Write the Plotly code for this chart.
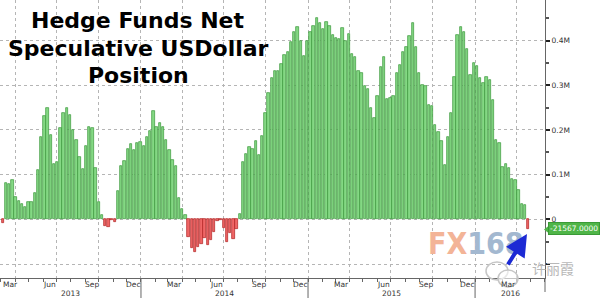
import datetime as dt
import plotly.graph_objects as go

# ---------------- data ----------------
first_week = "2013-03-05"   # first weekly observation (CFTC Tuesdays)
# net speculative USD position, thousands of contracts
net_position_k = [
    -8, 82, 79, 87, 49, 40, 34, 28, 39, 38,
    58, 110, 185, 230, 249, 189, 124, 129, 204, 237,
    248, 233, 200, 178, 139, 112, 165, 206, 205, 114,
    39, 10, -16, -17, -2, -7, 64, 119, 131, 157,
    169, 155, 170, 172, 164, 184, 198, 243, 206, 215,
    207, 178, 155, 133, 119, 47, 22, 10, -39, -65,
    -74, -63, -56, -41, -58, -47, -28, -3, -2, -20,
    -50, -31, -45, -22, 12, 129, 146, 161, 157, 175,
    144, 187, 237, 282, 316, 332, 331, 348, 368, 375,
    396, 418, 430, 398, 365, 400, 420, 433, 451, 440,
    425, 442, 433, 412, 405, 403, 428, 400, 415, 369,
    363, 331, 327, 299, 291, 249, 226, 276, 340, 364,
    269, 271, 276, 327, 345, 375, 385, 409, 439, 385,
    328, 301, 299, 256, 254, 211, 196, 175, 122, 185,
    237, 319, 413, 430, 418, 381, 323, 349, 342, 317,
    304, 319, 312, 267, 178, 170, 116, 124, 114, 90,
    88, 66, 34, 32, -21.567,
]
month_labels = ["Mar", "Jun", "Sep", "Dec"]
month_numbers = [3, 6, 9, 12]
years = [2013, 2014, 2015, 2016]
y_tick_values = [0, 100000, 200000, 300000, 400000]
y_tick_text = ["0", "0.1M", "0.2M", "0.3M", "0.4M"]
last_label = "-21567.0000"

# ---------------- build ----------------
start = dt.date.fromisoformat(first_week)
dates = [start + dt.timedelta(weeks=i) for i in range(len(net_position_k))]
values = [v * 1000 for v in net_position_k]

GREEN_FILL, GREEN_LINE = "#84d884", "#3a963a"
RED_FILL, RED_LINE = "#f06666", "#b02020"
fills = [GREEN_FILL if v >= 0 else RED_FILL for v in values]
lines = [GREEN_LINE if v >= 0 else RED_LINE for v in values]

X0 = dt.datetime(2013, 2, 27)
X1 = dt.datetime(2016, 6, 1, 19)
PLOT_W, PLOT_H = 545, 278

def px(x):
    return x / PLOT_W

def py(y):
    return (PLOT_H - y) / PLOT_H

fig = go.Figure()
fig.add_trace(go.Bar(
    x=dates, y=values,
    width=5.2 * 86400000,
    marker=dict(color=fills, line=dict(color=lines, width=0.7)),
    hoverinfo="skip",
))

AX_FONT = dict(family="DejaVu Sans", size=7.5, color="#333333")

quarter_starts = []
for yr in range(2013, 2017):
    for m in (1, 4, 7, 10):
        d = dt.datetime(yr, m, 1)
        if X0 < d < X1:
            quarter_starts.append(d)

fig.update_layout(
    width=600, height=298, autosize=False,
    margin=dict(l=0, r=55, t=0, b=20, pad=0),
    paper_bgcolor="white", plot_bgcolor="white",
    showlegend=False, bargap=0,
    xaxis=dict(
        type="date", range=[X0, X1], automargin=False,
        showline=True, linecolor="#666666", linewidth=1,
        tickvals=quarter_starts, showticklabels=False,
        ticks="outside", ticklen=3, tickcolor="#666666",
        showgrid=True, gridcolor="#b5b5b5", griddash="dot", gridwidth=1,
        minor=dict(dtick="M1", tick0="2013-01-01", ticks="outside",
                   ticklen=3, tickcolor="#666666", showgrid=False),
        zeroline=False, fixedrange=True,
    ),
    yaxis=dict(
        side="right", range=[-131300, 490600], automargin=False,
        showline=True, linecolor="#666666", linewidth=1,
        tickvals=[-100000] + y_tick_values, ticktext=[""] + y_tick_text,
        ticks="outside", ticklen=4, tickwidth=2, tickcolor="#222222",
        tickfont=AX_FONT,
        showgrid=True, gridcolor="#b5b5b5", griddash="dot", gridwidth=1,
        minor=dict(dtick=50000, tick0=0, ticks="outside", ticklen=3,
                   tickcolor="#555555", showgrid=False),
        zeroline=False, fixedrange=True,
    ),
)

annotations = []
# month labels at mid-month
for yr in years:
    for lab, m in zip(month_labels, month_numbers):
        d = dt.datetime(yr, m, 15)
        if X0 <= d <= X1:
            annotations.append(dict(
                x=d, xref="x", y=0, yref="paper", text=lab,
                showarrow=False, font=AX_FONT, yanchor="middle",
                yshift=-6.5, xshift=3 if d < dt.datetime(2013, 4, 1) else 0))
# year labels centered on the visible part of each year
shapes = []
for yr in years:
    a = max(dt.datetime(yr, 1, 1), X0)
    b = min(dt.datetime(yr + 1, 1, 1), X1)
    mid = a + (b - a) / 2
    annotations.append(dict(
        x=mid, xref="x", y=0, yref="paper", text=str(yr),
        showarrow=False, font=AX_FONT, yanchor="middle", yshift=-15))
    if yr > years[0]:
        shapes.append(dict(type="line", xref="x", yref="paper",
                           x0=dt.datetime(yr, 1, 1), x1=dt.datetime(yr, 1, 1),
                           y0=0, y1=py(298), line=dict(color="#666666", width=1)))
# right axis line continues below the x axis
shapes.append(dict(type="line", xref="paper", yref="paper", x0=1, x1=1,
                   y0=0, y1=py(292), line=dict(color="#666666", width=1)))

# title
title_lines = ["Hedge Funds Net", "Speculative USDollar", "Position"]
for t, yc in zip(title_lines, [20, 48, 75]):
    annotations.append(dict(
        x=px(138), xref="paper", y=py(yc), yref="paper", text="<b>" + t + "</b>",
        showarrow=False, xanchor="center", yanchor="middle",
        font=dict(family="DejaVu Sans", size=22, color="#000000")))

# last value tag
annotations.append(dict(
    x=px(548), xref="paper", y=values[-1], yref="y", text=last_label,
    showarrow=False, xanchor="left", yanchor="middle",
    bgcolor="#4fb548", bordercolor="#3a9a36", borderwidth=1, borderpad=1,
    font=dict(family="DejaVu Sans", size=7.5, color="#ffffff")))
shapes.append(dict(type="path", xref="paper", yref="paper",
                   path=f"M {px(544)} {py(229.5)} L {px(548.5)} {py(226)} L {px(548.5)} {py(233)} Z",
                   fillcolor="#4fb548", line=dict(width=0)))

# FX168 watermark
annotations.append(dict(
    x=px(476), xref="paper", y=py(243), yref="paper",
    text='<b><span style="color:#f3b497">FX</span><span style="color:#a3b8d0">168</span></b>',
    showarrow=False, xanchor="center", yanchor="middle",
    font=dict(family="DejaVu Sans Condensed, sans-serif", size=30)))

# WeChat-style watermark
shapes.append(dict(type="circle", xref="paper", yref="paper",
                   x0=px(486), x1=px(508), y0=py(280), y1=py(262),
                   line=dict(color="#c6c6c6", width=1.5)))
shapes.append(dict(type="circle", xref="paper", yref="paper",
                   x0=px(498), x1=px(518), y0=py(287), y1=py(270),
                   line=dict(color="#c6c6c6", width=1.5), fillcolor="rgba(255,255,255,0.6)"))
annotations.append(dict(
    x=px(553), xref="paper", y=py(268), yref="paper", text="许丽霞",
    showarrow=False, xanchor="center", yanchor="middle",
    font=dict(family="Noto Sans CJK SC", size=14, color="#b8b8b8")))

# blue arrow
annotations.append(dict(
    x=px(527), xref="paper", y=py(234), yref="paper", text="",
    showarrow=True, ax=-20, ay=32, arrowhead=2, arrowsize=1.1,
    arrowwidth=4, arrowcolor="#1c2ad4"))

fig.update_layout(annotations=annotations, shapes=shapes)
fig.write_html("out.html")
